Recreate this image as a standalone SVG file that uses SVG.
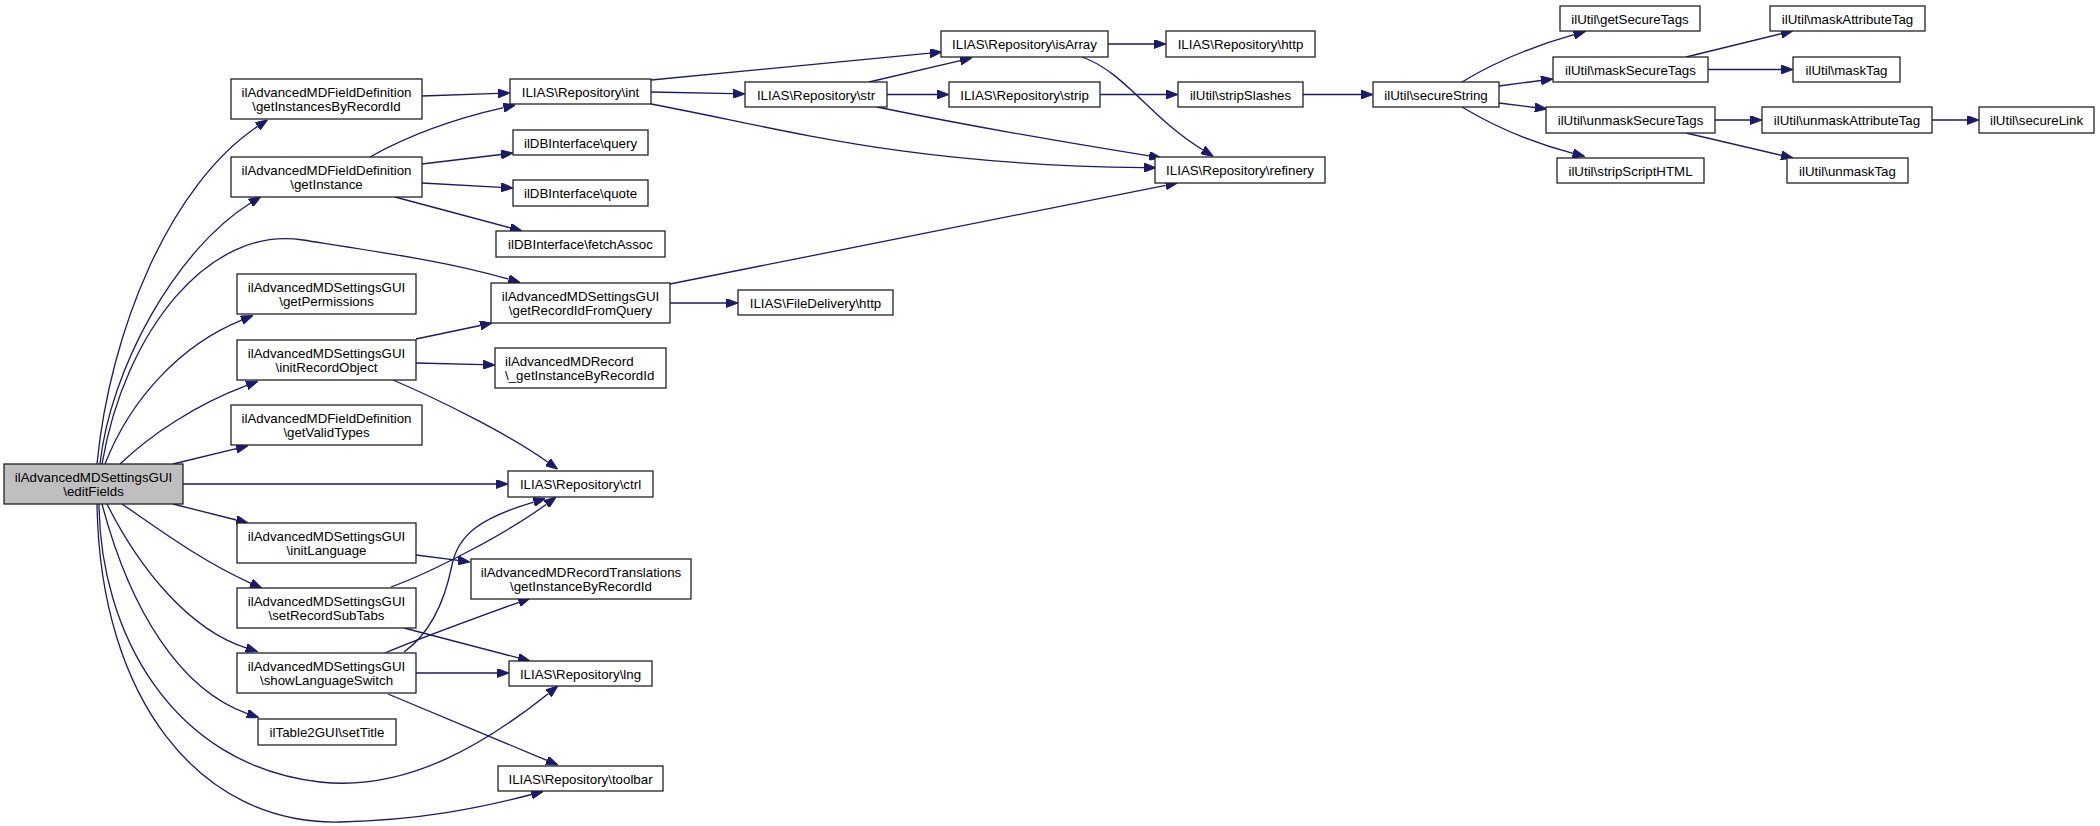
<svg xmlns="http://www.w3.org/2000/svg" width="2100" height="826" viewBox="0 0 2100 826">
<style>
.n rect{fill:#ffffff;stroke:#222222;stroke-width:1.3}
.n.root rect{fill:#bfbfbf}
.n text{font-family:"Liberation Sans",Arial,sans-serif;font-size:13.3px;fill:#000000;text-anchor:middle}
.n text.l{text-anchor:start}
#edges path{fill:none;stroke:#191970;stroke-width:1.3;marker-end:url(#arr)}
</style>
<defs>
<marker id="arr" markerUnits="userSpaceOnUse" markerWidth="12" markerHeight="9" viewBox="0 0 12 9" refX="0" refY="4.5" orient="auto">
<path d="M0,0 L12,4.5 L0,9 z" fill="#191970" stroke="#191970" stroke-width="1"/>
</marker>
</defs>
<rect width="2100" height="826" fill="#ffffff"/>
<g id="edges">
<path d="M97,464 C110,330 170,185 257.6,126.4"/>
<path d="M100,464 C110,370 175,250 250.6,203"/>
<path d="M102,464 C125,330 210,225 303,240 C380,252 450,262 508.6,279.2"/>
<path d="M105,464 C130,400 180,345 241.7,320.1"/>
<path d="M120,464 C150,435 195,405 246.8,385.4"/>
<path d="M173,464 L236.3,448.7"/>
<path d="M183,484 L496,484"/>
<path d="M173,504 L236.4,520"/>
<path d="M122,504 C160,530 200,560 251,583.3"/>
<path d="M107,504 C140,570 190,630 246.1,647.9"/>
<path d="M102,504 C130,610 180,690 247.3,713.6"/>
<path d="M99,504 C100,630 170,765 320,782 C410,792 490,740 548.5,693.4"/>
<path d="M97,504 C100,700 200,825 340,822 C420,820 480,808 531.5,794.5"/>
<path d="M422,96 L498,93.4"/>
<path d="M370,157 C395,143 440,122 503.6,107.7"/>
<path d="M422,164 L501.1,154.5"/>
<path d="M422,183 L501,187.3"/>
<path d="M395,197 L510.4,227.9"/>
<path d="M416,339 L480.3,325.5"/>
<path d="M416,363 L483,364.7"/>
<path d="M393,380 C440,400 510,435 547.9,462.2"/>
<path d="M416,555 L458.1,560.4"/>
<path d="M391,587 C430,573 506,534 546.4,504.2"/>
<path d="M404,628 L518.4,657.9"/>
<path d="M404,652 C432,632 445,600 452,565 C458,535 480,518 533.7,502.1"/>
<path d="M385,653 C420,638 470,620 518.8,602.3"/>
<path d="M416,673 L497,673"/>
<path d="M388,694 L546.9,760.4"/>
<path d="M670,284 L1165.7,185.3"/>
<path d="M670,303 L726,303"/>
<path d="M651,80 L930,53.2"/>
<path d="M651,92 L733,93.7"/>
<path d="M651,104 C780,128 900,165 1144,167.6"/>
<path d="M869,82 L960.3,60.6"/>
<path d="M887,94.5 L937,94.5"/>
<path d="M877,107 C950,122 1050,140 1149.2,155.9"/>
<path d="M1108,44 L1154,44"/>
<path d="M1082,57 C1125,72 1150,118 1203,150"/>
<path d="M1100,94.5 L1166,94.5"/>
<path d="M1303,94.5 L1361,94.5"/>
<path d="M1462,82 C1490,65 1530,47 1574,34.7"/>
<path d="M1499,86 L1541,80.5"/>
<path d="M1499,103 L1535,107.5"/>
<path d="M1462,107 C1490,124 1530,142 1573,153.3"/>
<path d="M1686,57 L1781.3,33.7"/>
<path d="M1708,69.5 L1781,69.5"/>
<path d="M1715,120 L1750,120"/>
<path d="M1686,133 L1781.3,155.3"/>
<path d="M1932,120 L1967,120"/>
</g>
<g id="editFields" class="n root"><rect x="4" y="464" width="179" height="40"/><text x="93.5" y="481.5">ilAdvancedMDSettingsGUI</text><text x="93.5" y="496">\editFields</text></g>
<g id="getInstancesByRecordId" class="n"><rect x="231" y="79" width="191" height="40"/><text x="326.5" y="96.5">ilAdvancedMDFieldDefinition</text><text x="326.5" y="111">\getInstancesByRecordId</text></g>
<g id="getInstance" class="n"><rect x="231" y="157" width="191" height="40"/><text x="326.5" y="174.5">ilAdvancedMDFieldDefinition</text><text x="326.5" y="189">\getInstance</text></g>
<g id="getPermissions" class="n"><rect x="237" y="274" width="179" height="40"/><text x="326.5" y="291.5">ilAdvancedMDSettingsGUI</text><text x="326.5" y="306">\getPermissions</text></g>
<g id="initRecordObject" class="n"><rect x="237" y="340" width="179" height="40"/><text x="326.5" y="357.5">ilAdvancedMDSettingsGUI</text><text x="326.5" y="372">\initRecordObject</text></g>
<g id="getValidTypes" class="n"><rect x="231" y="405" width="191" height="40"/><text x="326.5" y="422.5">ilAdvancedMDFieldDefinition</text><text x="326.5" y="437">\getValidTypes</text></g>
<g id="initLanguage" class="n"><rect x="237" y="523" width="179" height="40"/><text x="326.5" y="540.5">ilAdvancedMDSettingsGUI</text><text x="326.5" y="555">\initLanguage</text></g>
<g id="setRecordSubTabs" class="n"><rect x="237" y="588" width="179" height="40"/><text x="326.5" y="605.5">ilAdvancedMDSettingsGUI</text><text x="326.5" y="620">\setRecordSubTabs</text></g>
<g id="showLanguageSwitch" class="n"><rect x="237" y="653" width="179" height="40"/><text x="326.5" y="670.5">ilAdvancedMDSettingsGUI</text><text x="326.5" y="685">\showLanguageSwitch</text></g>
<g id="setTitle" class="n"><rect x="258" y="719" width="138" height="26"/><text x="327" y="736.5">ilTable2GUI\setTitle</text></g>
<g id="int" class="n"><rect x="510" y="79" width="141" height="25"/><text x="580.5" y="96.5">ILIAS\Repository\int</text></g>
<g id="query" class="n"><rect x="513" y="130" width="135" height="25"/><text x="580.5" y="147.5">ilDBInterface\query</text></g>
<g id="quote" class="n"><rect x="513" y="180" width="135" height="26"/><text x="580.5" y="197.5">ilDBInterface\quote</text></g>
<g id="fetchAssoc" class="n"><rect x="496" y="231" width="169" height="26"/><text x="580.5" y="248.5">ilDBInterface\fetchAssoc</text></g>
<g id="getRecordIdFromQuery" class="n"><rect x="491" y="283" width="179" height="40"/><text x="580.5" y="300.5">ilAdvancedMDSettingsGUI</text><text x="580.5" y="315">\getRecordIdFromQuery</text></g>
<g id="recordGetInstanceByRecordId" class="n"><rect x="495" y="348" width="171" height="40"/><text class="l" x="505" y="365.5">ilAdvancedMDRecord</text><text class="l" x="505" y="380">\_getInstanceByRecordId</text></g>
<g id="ctrl" class="n"><rect x="508" y="471" width="145" height="26"/><text x="580.5" y="488.5">ILIAS\Repository\ctrl</text></g>
<g id="recordTranslations" class="n"><rect x="471" y="559" width="220" height="40"/><text x="581" y="576.5">ilAdvancedMDRecordTranslations</text><text x="581" y="591">\getInstanceByRecordId</text></g>
<g id="lng" class="n"><rect x="509" y="661" width="143" height="25"/><text x="580.5" y="678.5">ILIAS\Repository\lng</text></g>
<g id="toolbar" class="n"><rect x="498" y="766" width="165" height="25"/><text x="580.5" y="783.5">ILIAS\Repository\toolbar</text></g>
<g id="fileDeliveryHttp" class="n"><rect x="738" y="290" width="155" height="25"/><text x="815.5" y="307.5">ILIAS\FileDelivery\http</text></g>
<g id="str" class="n"><rect x="745" y="82" width="142" height="25"/><text x="816" y="99.5">ILIAS\Repository\str</text></g>
<g id="isArray" class="n"><rect x="941" y="31" width="167" height="26"/><text x="1024.5" y="48.5">ILIAS\Repository\isArray</text></g>
<g id="strip" class="n"><rect x="949" y="82" width="151" height="25"/><text x="1024.5" y="99.5">ILIAS\Repository\strip</text></g>
<g id="refinery" class="n"><rect x="1155" y="157" width="170" height="26"/><text x="1240" y="174.5">ILIAS\Repository\refinery</text></g>
<g id="repositoryHttp" class="n"><rect x="1166" y="31" width="149" height="26"/><text x="1240.5" y="48.5">ILIAS\Repository\http</text></g>
<g id="stripSlashes" class="n"><rect x="1178" y="82" width="125" height="25"/><text x="1240.5" y="99.5">ilUtil\stripSlashes</text></g>
<g id="secureString" class="n"><rect x="1373" y="82" width="126" height="25"/><text x="1436" y="99.5">ilUtil\secureString</text></g>
<g id="getSecureTags" class="n"><rect x="1560" y="6" width="140" height="25"/><text x="1630" y="23.5">ilUtil\getSecureTags</text></g>
<g id="maskSecureTags" class="n"><rect x="1553" y="57" width="155" height="25"/><text x="1630.5" y="74.5">ilUtil\maskSecureTags</text></g>
<g id="unmaskSecureTags" class="n"><rect x="1546" y="107" width="169" height="26"/><text x="1630.5" y="124.5">ilUtil\unmaskSecureTags</text></g>
<g id="stripScriptHTML" class="n"><rect x="1557" y="158" width="147" height="25"/><text x="1630.5" y="175.5">ilUtil\stripScriptHTML</text></g>
<g id="maskAttributeTag" class="n"><rect x="1770" y="6" width="155" height="25"/><text x="1847.5" y="23.5">ilUtil\maskAttributeTag</text></g>
<g id="maskTag" class="n"><rect x="1793" y="57" width="107" height="25"/><text x="1846.5" y="74.5">ilUtil\maskTag</text></g>
<g id="unmaskAttributeTag" class="n"><rect x="1762" y="107" width="170" height="26"/><text x="1847" y="124.5">ilUtil\unmaskAttributeTag</text></g>
<g id="unmaskTag" class="n"><rect x="1787" y="158" width="121" height="25"/><text x="1847.5" y="175.5">ilUtil\unmaskTag</text></g>
<g id="secureLink" class="n"><rect x="1979" y="107" width="115" height="26"/><text x="2036.5" y="124.5">ilUtil\secureLink</text></g>
</svg>
